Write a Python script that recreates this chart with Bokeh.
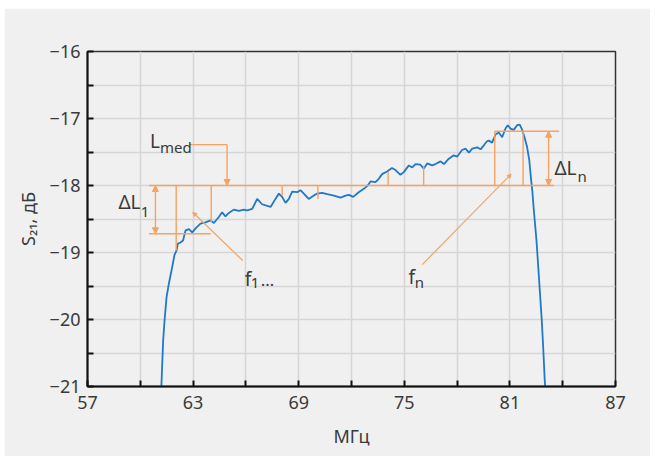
from bokeh.plotting import figure
from bokeh.models import FixedTicker, CustomJSTickFormatter, Range1d, Arrow, NormalHead
from bokeh.core.properties import value
from bokeh.embed import file_html
from bokeh.resources import INLINE

# ---- measured S21 response ----
freq_mhz = [61.19, 61.24, 61.30, 61.38, 61.49, 61.62, 61.81, 61.94, 62.06, 62.13,
            62.28, 62.43, 62.57, 62.76, 62.95, 63.14, 63.42, 63.70, 63.99, 64.18,
            64.46, 64.65, 64.84, 65.03, 65.31, 65.60, 65.88, 66.07, 66.36, 66.64,
            66.92, 67.40, 67.68, 67.87, 68.06, 68.25, 68.44, 68.63, 68.91, 69.10,
            69.29, 69.57, 69.86, 70.05, 70.33, 70.62, 71.00, 71.38, 71.66, 71.85,
            72.10, 72.41, 72.70, 72.89, 73.08, 73.36, 73.55, 73.74, 74.02, 74.30,
            74.50, 74.78, 74.97, 75.26, 75.45, 75.64, 75.92, 76.10, 76.30, 76.58,
            76.77, 77.06, 77.25, 77.53, 77.81, 78.00, 78.28, 78.48, 78.67, 78.86,
            79.14, 79.33, 79.52, 79.70, 79.80, 79.99, 80.18, 80.37, 80.56, 80.75,
            80.88, 81.03, 81.22, 81.41, 81.56, 81.70, 81.83, 81.98, 82.10, 82.20,
            82.28, 82.36, 82.51, 82.60, 82.70, 82.81, 82.89, 82.98, 83.02]
s21_db = [-21.05, -20.71, -20.31, -20.01, -19.67, -19.47, -19.22, -19.04, -18.97, -18.87,
          -18.85, -18.82, -18.67, -18.65, -18.70, -18.64, -18.57, -18.55, -18.52, -18.56,
          -18.47, -18.40, -18.46, -18.41, -18.36, -18.38, -18.36, -18.37, -18.35, -18.20,
          -18.28, -18.32, -18.20, -18.12, -18.17, -18.26, -18.20, -18.09, -18.10, -18.07,
          -18.12, -18.20, -18.15, -18.12, -18.11, -18.13, -18.15, -18.18, -18.15, -18.14,
          -18.17, -18.10, -18.05, -18.01, -17.94, -17.95, -17.90, -17.83, -17.79, -17.74,
          -17.77, -17.84, -17.80, -17.70, -17.73, -17.68, -17.69, -17.75, -17.67, -17.70,
          -17.68, -17.64, -17.68, -17.60, -17.55, -17.57, -17.47, -17.45, -17.51, -17.45,
          -17.43, -17.46, -17.40, -17.34, -17.33, -17.36, -17.24, -17.21, -17.28, -17.15,
          -17.10, -17.15, -17.17, -17.10, -17.09, -17.17, -17.28, -17.43, -17.62, -17.90,
          -18.10, -18.37, -18.82, -19.17, -19.57, -20.01, -20.41, -20.91, -21.06]

# ---- axes ----
x_ticks = [57, 63, 69, 75, 81, 87]
x_minor = [60, 66, 72, 78, 84]
y_ticks = [-21, -20, -19, -18, -17, -16]
y_minor = [-20.5, -19.5, -18.5, -17.5, -16.5]

# ---- annotation levels ----
L_med = -18.0
dL1_low = -18.72
dLn_high = -17.19
probe_f = [62.04, 64.03, 68.06, 70.09, 74.08, 76.10, 80.14, 81.75]
probe_s21 = [-18.97, -18.55, -18.15, -18.20, -17.80, -17.70, -17.19, -17.19]

BLUE = "#1f78c8"
ORANGE = "#f5a262"
TXT = "#3a3a3a"
FONT = "Noto Sans"
BG = "#f0f0f0"
GRID = "#d6d6d6"

p = figure(width=646, height=448, x_range=Range1d(57, 87), y_range=Range1d(-21, -16),
           output_backend="svg", toolbar_location=None,
           min_border_left=83, min_border_right=35, min_border_top=43, min_border_bottom=70,
           background_fill_color=BG, border_fill_color=BG)
p.margin = (8, 0, 0, 4)
p.outline_line_color = "#333333"
p.outline_line_width = 1.5

fmt = CustomJSTickFormatter(code="return (tick < 0 ? '\\u2212' : '') + Math.abs(tick).toString();")

p.xaxis.ticker = FixedTicker(ticks=x_ticks, minor_ticks=x_minor)
p.yaxis.ticker = FixedTicker(ticks=y_ticks, minor_ticks=y_minor)
p.yaxis.formatter = fmt
for ax in (p.xaxis, p.yaxis):
    ax.axis_line_color = "#111111"
    ax.axis_line_width = 2
    ax.major_tick_in = 6
    ax.major_tick_out = 0
    ax.minor_tick_in = 6
    ax.minor_tick_out = 0
    ax.major_tick_line_color = "#111111"
    ax.minor_tick_line_color = "#111111"
    ax.major_tick_line_width = 2
    ax.minor_tick_line_width = 2
    ax.major_label_text_font = FONT
    ax.major_label_text_font_size = "18px"
    ax.major_label_text_color = TXT
    ax.axis_label_text_font = FONT
    ax.axis_label_text_font_size = "18px"
    ax.axis_label_text_font_style = "normal"
    ax.axis_label_text_color = TXT
p.xaxis.axis_label = "МГц"
p.yaxis.axis_label = "S₂₁, дБ"
p.xaxis.major_label_standoff = 9
p.yaxis.major_label_standoff = 7
p.xaxis.axis_label_standoff = 12
p.yaxis.axis_label_standoff = 7

for g in (p.xgrid, p.ygrid):
    g.grid_line_color = GRID
    g.grid_line_width = 1.5
    g.minor_grid_line_color = GRID
    g.minor_grid_line_width = 1.5

# ---- curve ----
p.line(freq_mhz, s21_db, line_color=BLUE, line_width=1.8)

# ---- orange construction lines ----
p.segment(x0=[60.5, 60.5, 80.15], y0=[L_med, dL1_low, dLn_high],
          x1=[83.5, 64.0, 83.8], y1=[L_med, dL1_low, dLn_high],
          line_color=ORANGE, line_width=1.6)
p.segment(x0=probe_f, y0=[L_med] * len(probe_f), x1=probe_f, y1=probe_s21,
          line_color=ORANGE, line_width=1.4)
# Lmed leader
p.segment(x0=[62.81], y0=[-17.39], x1=[64.93], y1=[-17.39], line_color=ORANGE, line_width=1.4)

def head(s):
    return NormalHead(size=s, fill_color=ORANGE, line_color=ORANGE, line_width=1)

p.add_layout(Arrow(x_start=64.93, y_start=-17.39, x_end=64.93, y_end=L_med,
                   end=head(6), line_color=ORANGE, line_width=1.4))
p.add_layout(Arrow(x_start=60.86, y_start=L_med, x_end=60.86, y_end=dL1_low,
                   start=head(6), end=head(6), line_color=ORANGE, line_width=1.4))
p.add_layout(Arrow(x_start=83.2, y_start=dLn_high, x_end=83.2, y_end=L_med,
                   start=head(6), end=head(6), line_color=ORANGE, line_width=1.4))
p.add_layout(Arrow(x_start=65.82, y_start=-19.12, x_end=62.98, y_end=-18.40,
                   end=head(4), line_color=ORANGE, line_width=1.2))
p.add_layout(Arrow(x_start=76.02, y_start=-19.18, x_end=81.07, y_end=-17.83,
                   end=head(4), line_color=ORANGE, line_width=1.2))

# ---- annotation texts ----
main_x = [60.55, 58.76, 83.53, 65.93, 75.24]
main_y = [-17.34, -18.25, -17.74, -19.39, -19.37]
main_t = ["L", "ΔL", "ΔL", "f", "f"]
p.text(x=main_x, y=main_y, text=main_t, text_font=value(FONT), text_font_size="19px",
       text_color=TXT, text_align="left", text_baseline="alphabetic")
sub_x = [61.12, 60.02, 84.84, 66.27, 75.59]
sub_y = [-17.43, -18.40, -17.86, -19.45, -19.44]
sub_t = ["med", "1", "n", "1", "n"]
p.text(x=sub_x, y=sub_y, text=sub_t, text_font=value(FONT), text_font_size="15px",
       text_color=TXT, text_align="left", text_baseline="alphabetic")
p.text(x=[66.85], y=[-19.40], text=["…"], text_font=value(FONT), text_font_size="17px",
       text_color=TXT, text_align="left", text_baseline="alphabetic")

open("out.html", "w").write(file_html(p, INLINE))
